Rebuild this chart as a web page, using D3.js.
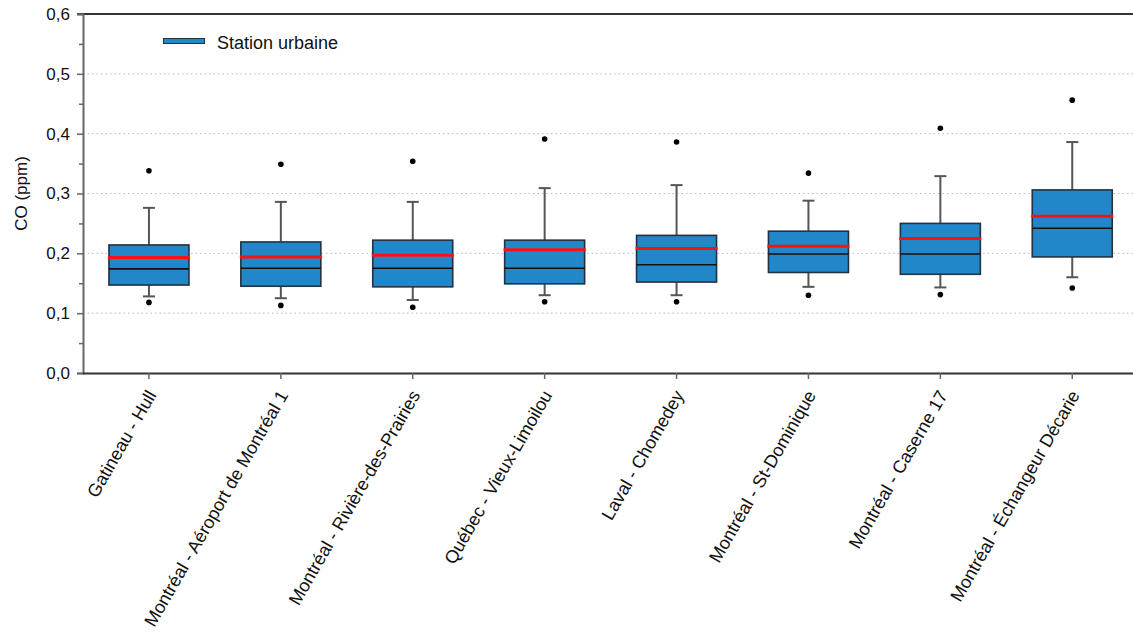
<!DOCTYPE html>
<html>
<head>
<meta charset="utf-8">
<script src="https://cdn.jsdelivr.net/npm/d3@7"></script>
<style>
  html, body { margin: 0; padding: 0; background: #fff; }
  svg { display: block; font-family: "Liberation Sans", Arial, sans-serif; }
</style>
</head>
<body>
<svg id="chart" width="1133" height="634"></svg>
<script>
// Stations (urban monitoring sites)
const categories = [
  "Gatineau - Hull",
  "Montréal - Aéroport de Montréal 1",
  "Montréal - Rivière-des-Prairies",
  "Québec - Vieux-Limoilou",
  "Laval - Chomedey",
  "Montréal - St-Dominique",
  "Montréal - Caserne 17",
  "Montréal - Échangeur Décarie"
];

// CO concentration statistics (ppm)
const whiskerHigh = [0.276, 0.286, 0.286, 0.309, 0.314, 0.288, 0.329, 0.386];
const q3          = [0.214, 0.219, 0.222, 0.222, 0.230, 0.237, 0.250, 0.306];
const meanValue   = [0.193, 0.194, 0.197, 0.206, 0.208, 0.212, 0.225, 0.262];
const median      = [0.174, 0.175, 0.175, 0.175, 0.181, 0.199, 0.199, 0.242];
const q1          = [0.147, 0.145, 0.144, 0.149, 0.152, 0.168, 0.165, 0.194];
const whiskerLow  = [0.128, 0.125, 0.122, 0.130, 0.130, 0.144, 0.143, 0.160];
const outlierHigh = [0.338, 0.349, 0.354, 0.391, 0.386, 0.334, 0.409, 0.456];
const outlierLow  = [0.118, 0.113, 0.110, 0.119, 0.119, 0.130, 0.131, 0.142];

const yTicks = [0, 0.1, 0.2, 0.3, 0.4, 0.5, 0.6];
const yMinorTicks = [0.05, 0.15, 0.25, 0.35, 0.45, 0.55];
const legendLabel = "Station urbaine";
const yTitle = "CO (ppm)";

const boxFill = "#2187c8";

const svg = d3.select("#chart");
const plot = { left: 83, top: 14, bottom: 373, right: 1133 };

const y = d3.scaleLinear().domain([0, 0.6]).range([plot.bottom, plot.top]);
const x = d3.scaleBand()
  .domain(categories)
  .range([plot.left, plot.left + categories.length * 131.9])
  .paddingInner(0.39)
  .paddingOuter(0.195);
const cx = d => x(d) + x.bandwidth() / 2;

// dotted horizontal gridlines
svg.append("g")
  .selectAll("line")
  .data(yTicks.filter(t => t > 0 && t < 0.6))
  .join("line")
  .attr("x1", plot.left).attr("x2", plot.right)
  .attr("y1", d => y(d)).attr("y2", d => y(d))
  .attr("stroke", "#b8b8b8")
  .attr("stroke-width", 1)
  .attr("stroke-dasharray", "1.5,3");

// top frame line
svg.append("line")
  .attr("x1", plot.left - 6).attr("x2", plot.right)
  .attr("y1", y(0.6)).attr("y2", y(0.6))
  .attr("stroke", "#333").attr("stroke-width", 2);

// y axis
const yAxis = svg.append("g")
  .attr("transform", `translate(${plot.left},0)`)
  .call(d3.axisLeft(y)
    .tickValues(yTicks)
    .tickSize(6)
    .tickPadding(7)
    .tickFormat(d => d3.format(".1f")(d).replace(".", ",")));
yAxis.select(".domain").attr("stroke", "#666").attr("stroke-width", 2);
yAxis.selectAll(".tick line").attr("stroke", "#666").attr("stroke-width", 1.5);
yAxis.selectAll(".tick text")
  .attr("font-size", 17)
  .attr("fill", "#111")
  .attr("font-family", "Liberation Sans, Arial, sans-serif");

const yMinor = svg.append("g")
  .attr("transform", `translate(${plot.left},0)`)
  .call(d3.axisLeft(y).tickValues(yMinorTicks).tickSize(4).tickFormat(""));
yMinor.select(".domain").remove();
yMinor.selectAll(".tick line").attr("stroke", "#666").attr("stroke-width", 1.5);

// x axis
const xAxis = svg.append("g")
  .attr("transform", `translate(0,${plot.bottom})`)
  .call(d3.axisBottom(x).tickSize(6).tickSizeOuter(0));
xAxis.select(".domain")
  .attr("d", `M${plot.left},0.5H${plot.right}`)
  .attr("stroke", "#333").attr("stroke-width", 2);
xAxis.selectAll(".tick line").attr("stroke", "#666").attr("stroke-width", 1.5);
xAxis.selectAll(".tick text")
  .attr("font-size", 18)
  .attr("fill", "#111")
  .attr("font-family", "Liberation Sans, Arial, sans-serif")
  .attr("text-anchor", "end")
  .attr("x", 0).attr("y", 0).attr("dy", 0)
  .attr("transform", "translate(8,22) rotate(-60)");

// y axis title
svg.append("text")
  .attr("transform", `translate(27,${(plot.top + plot.bottom) / 2}) rotate(-90)`)
  .attr("text-anchor", "middle")
  .attr("font-size", 17)
  .attr("fill", "#111")
  .text(yTitle);

// box plots
const rows = categories.map((c, i) => ({
  c, lo: whiskerLow[i], q1: q1[i], med: median[i], mean: meanValue[i],
  q3: q3[i], hi: whiskerHigh[i], oLo: outlierLow[i], oHi: outlierHigh[i]
}));

const boxW = 80;
const capW = 12;
const g = svg.append("g");
const box = g.selectAll("g.box").data(rows).join("g").attr("class", "box");

// whiskers
box.append("line")
  .attr("x1", d => cx(d.c)).attr("x2", d => cx(d.c))
  .attr("y1", d => y(d.q3)).attr("y2", d => y(d.hi))
  .attr("stroke", "#555").attr("stroke-width", 2);
box.append("line")
  .attr("x1", d => cx(d.c)).attr("x2", d => cx(d.c))
  .attr("y1", d => y(d.q1)).attr("y2", d => y(d.lo))
  .attr("stroke", "#555").attr("stroke-width", 2);
box.append("line")
  .attr("x1", d => cx(d.c) - capW / 2).attr("x2", d => cx(d.c) + capW / 2)
  .attr("y1", d => y(d.hi)).attr("y2", d => y(d.hi))
  .attr("stroke", "#555").attr("stroke-width", 2);
box.append("line")
  .attr("x1", d => cx(d.c) - capW / 2).attr("x2", d => cx(d.c) + capW / 2)
  .attr("y1", d => y(d.lo)).attr("y2", d => y(d.lo))
  .attr("stroke", "#555").attr("stroke-width", 2);

// interquartile box
box.append("rect")
  .attr("x", d => cx(d.c) - boxW / 2)
  .attr("width", boxW)
  .attr("y", d => y(d.q3))
  .attr("height", d => y(d.q1) - y(d.q3))
  .attr("fill", boxFill)
  .attr("stroke", "#233240")
  .attr("stroke-width", 1.6);

// median
box.append("line")
  .attr("x1", d => cx(d.c) - boxW / 2).attr("x2", d => cx(d.c) + boxW / 2)
  .attr("y1", d => y(d.med)).attr("y2", d => y(d.med))
  .attr("stroke", "#111").attr("stroke-width", 1.6);

// mean
box.append("line")
  .attr("x1", d => cx(d.c) - boxW / 2 - 1).attr("x2", d => cx(d.c) + boxW / 2 + 1)
  .attr("y1", d => y(d.mean)).attr("y2", d => y(d.mean))
  .attr("stroke", "#ff1010").attr("stroke-width", 3);

// outliers
box.append("circle")
  .attr("cx", d => cx(d.c)).attr("cy", d => y(d.oHi)).attr("r", 2.8).attr("fill", "#000");
box.append("circle")
  .attr("cx", d => cx(d.c)).attr("cy", d => y(d.oLo)).attr("r", 2.8).attr("fill", "#000");

// legend
const legend = svg.append("g");
legend.append("rect")
  .attr("x", 163.5).attr("y", 38.5).attr("width", 41).attr("height", 5)
  .attr("fill", boxFill).attr("stroke", "#233240").attr("stroke-width", 1);
legend.append("text")
  .attr("x", 217).attr("y", 49)
  .attr("font-size", 18)
  .attr("fill", "#111")
  .text(legendLabel);
</script>
</body>
</html>
